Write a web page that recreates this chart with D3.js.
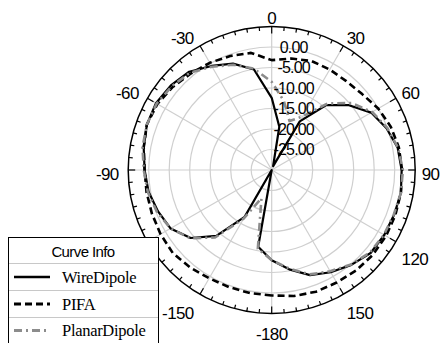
<!DOCTYPE html>
<html>
<head>
<meta charset="utf-8">
<script src="https://cdn.jsdelivr.net/npm/d3@7"></script>
<style>
  html, body { margin: 0; padding: 0; background: #fff; }
  svg { display: block; }
</style>
</head>
<body>
<svg id="chart" width="444" height="343"></svg>
<script>
// Far-field gain (dB) versus angle (deg), sampled every 10 degrees
const angles = [-180,-170,-160,-150,-140,-130,-120,-110,-100,-90,-80,-70,-60,-50,-40,-30,-20,-10,
                0,10,20,30,40,50,60,70,80,90,100,110,120,130,140,150,160,170,180];

const wireDipole = [-8.0,-11.0,-30.0,-16.8,-9.0,-4.2,-1.5,-0.5,0.5,1.0,1.7,2.4,2.6,2.1,1.3,-0.7,-2.4,-5.1,
                    -12.4,-19.3,-29.0,-16.3,-9.3,-5.4,-2.0,-0.2,1.2,1.7,2.0,1.8,1.7,1.5,0.2,-1.2,-2.7,-5.4,-8.0];

const pifa = [0.6,0.5,0.4,0.5,1.0,1.5,1.3,1.1,1.0,1.0,1.7,2.4,2.2,1.5,0.7,0.2,-0.4,-1.0,
              -3.2,-2.4,-1.7,-1.7,-1.7,-1.2,0.0,0.9,1.5,1.8,2.0,2.1,2.2,2.2,2.0,1.7,1.6,1.2,0.6];

const planarDipole = [-8.0,-10.5,-22.7,-16.3,-8.5,-4.1,-1.5,-0.2,0.7,1.2,2.0,2.4,2.4,1.8,1.0,-0.9,-2.7,-4.9,
                      -8.5,-12.9,-17.3,-14.9,-8.8,-4.6,-1.7,0.0,1.3,2.0,2.0,1.7,1.6,1.3,0.1,-1.5,-2.9,-5.6,-8.0];

// Radial axis (dB) and angular axis (deg) labels
const radialTicks = [0, -5, -10, -15, -20, -25];
const radialLabels = ["0.00", "-5.00", "-10.00", "-15.00", "-20.00", "-25.00"];
const angleTicks = [0, 30, 60, 90, 120, 150, 180, -150, -90, -60, -30];
const angleLabels = ["0", "30", "60", "90", "120", "150", "-180", "-150", "-90", "-60", "-30"];

const seriesNames = ["WireDipole", "PIFA", "PlanarDipole"];

const svg = d3.select("#chart");
const cx = 271.7, cy = 170, R = 143.5;
const rScale = d3.scaleLinear().domain([-30, 5]).range([0, R]).clamp(true);
const rad = d => d * Math.PI / 180;

const g = svg.append("g").attr("transform", `translate(${cx},${cy})`);

// grid rings
g.selectAll("circle.ring").data(radialTicks).join("circle")
  .attr("class", "ring").attr("r", d => rScale(d))
  .attr("fill", "none").attr("stroke", "#cfcfcf").attr("stroke-width", 1.2);

// radial spokes every 30 degrees
g.selectAll("line.spoke").data(d3.range(0, 360, 30)).join("line")
  .attr("x1", 0).attr("y1", 0)
  .attr("x2", d => R * Math.sin(rad(d))).attr("y2", d => -R * Math.cos(rad(d)))
  .attr("stroke", "#cfcfcf").attr("stroke-width", 1.2);

// outer frame with inward ticks every 5 degrees
g.append("circle").attr("r", R).attr("fill", "none").attr("stroke", "#000").attr("stroke-width", 1.5);
g.selectAll("line.tick").data(d3.range(0, 360, 5)).join("line")
  .attr("x1", d => R * Math.sin(rad(d))).attr("y1", d => -R * Math.cos(rad(d)))
  .attr("x2", d => (R - (d % 30 === 0 ? 7 : 4)) * Math.sin(rad(d)))
  .attr("y2", d => -(R - (d % 30 === 0 ? 7 : 4)) * Math.cos(rad(d)))
  .attr("stroke", "#000").attr("stroke-width", 1.2);

// curves
const styles = [
  { data: wireDipole,   color: "#000",    width: 2.2, dash: null },
  { data: pifa,         color: "#000",    width: 2.6, dash: "7,4" },
  { data: planarDipole, color: "#8c8c8c", width: 2.6, dash: "8,4,2,4" }
];
const radial = d3.lineRadial()
  .angle(d => rad(d[0]))
  .radius(d => rScale(d[1]));
styles.forEach(s => {
  g.append("path")
    .attr("d", radial(angles.map((a, i) => [a, s.data[i]])))
    .attr("fill", "none").attr("stroke", s.color).attr("stroke-width", s.width)
    .attr("stroke-dasharray", s.dash).attr("stroke-linejoin", "round");
});

// radial labels along the 0 degree spoke
g.selectAll("text.rl").data(radialTicks).join("text")
  .attr("x", 22).attr("y", d => -rScale(d))
  .attr("text-anchor", "middle").attr("dominant-baseline", "central")
  .attr("font-family", "Liberation Sans, Arial, sans-serif").attr("font-size", 16)
  .attr("letter-spacing", -0.8).attr("fill", "#000")
  .text((d, i) => radialLabels[i]);

// angular labels: anchored just outside the frame, pushed away from it
const labelR = R + 6.5;
g.selectAll("text.al").data(angleTicks).join("text")
  .attr("x", d => {
    const s = Math.sin(rad(d));
    return labelR * s + (s < -0.1 ? -3 : 0);
  })
  .attr("y", d => {
    const c = Math.cos(rad(d));
    const off = c < 0 ? 4 + 10 * Math.min(1, -c * 2) : 4 - 6 * Math.min(1, c * 2);
    return -labelR * c + off;
  })
  .attr("text-anchor", d => {
    const s = Math.sin(rad(d));
    return s > 0.1 ? "start" : (s < -0.1 ? "end" : "middle");
  })
  .attr("dominant-baseline", "central")
  .attr("font-family", "Liberation Sans, Arial, sans-serif").attr("font-size", 17)
  .attr("letter-spacing", -0.6).attr("fill", "#000")
  .text((d, i) => angleLabels[i]);

// legend
const lg = svg.append("g");
lg.append("rect").attr("x", 8.5).attr("y", 237.5).attr("width", 150).attr("height", 130)
  .attr("fill", "#fff").attr("stroke", "#000").attr("stroke-width", 1);
[263.5, 290.5, 317.5].forEach(y => {
  lg.append("line").attr("x1", 9).attr("x2", 158).attr("y1", y).attr("y2", y)
    .attr("stroke", "#c8c8c8").attr("stroke-width", 1);
});
lg.append("text").attr("x", 83).attr("y", 251).attr("text-anchor", "middle")
  .attr("dominant-baseline", "central")
  .attr("font-family", "Liberation Sans, Arial, sans-serif").attr("font-size", 15)
  .attr("letter-spacing", -0.6).text("Curve Info");
const rowY = [277, 304, 330.5];
seriesNames.forEach((name, i) => {
  const s = styles[i];
  lg.append("line").attr("x1", 14).attr("x2", 50).attr("y1", rowY[i]).attr("y2", rowY[i])
    .attr("stroke", s.color).attr("stroke-width", s.width + 0.4).attr("stroke-dasharray", s.dash);
  lg.append("text").attr("x", 62).attr("y", rowY[i]).attr("dominant-baseline", "central")
    .attr("font-family", "Liberation Serif, Times New Roman, serif").attr("font-size", 16.5)
    .attr("letter-spacing", -0.3).text(name);
});
</script>
</body>
</html>
